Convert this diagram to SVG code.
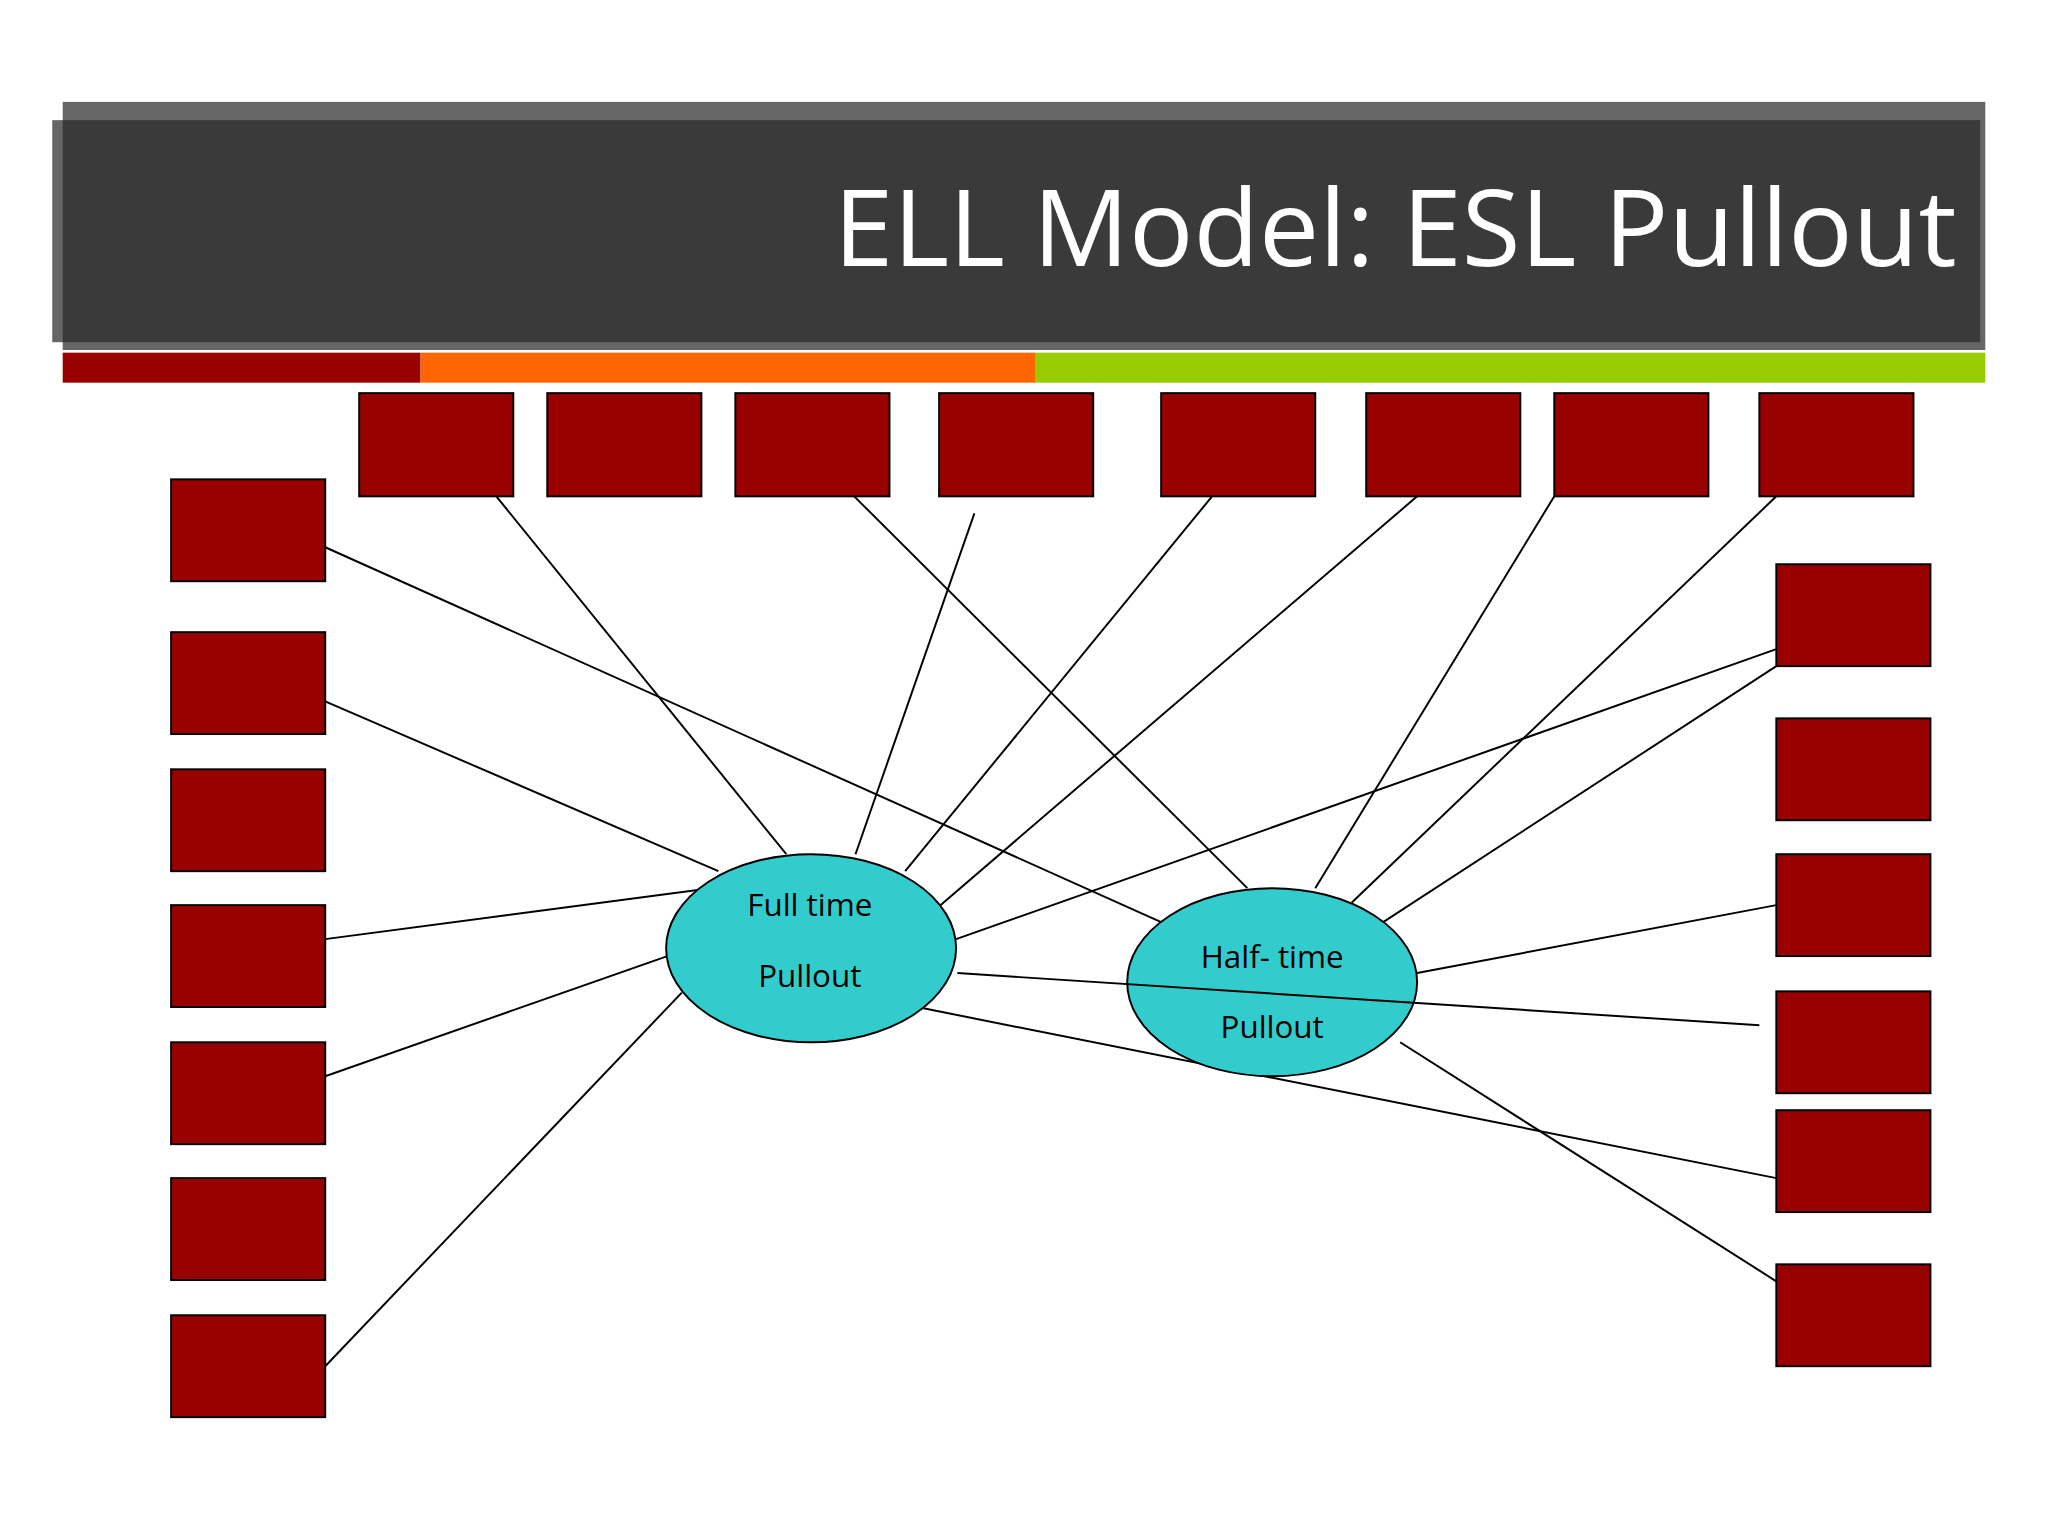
<svg xmlns="http://www.w3.org/2000/svg" width="2048" height="1536" viewBox="0 0 2048 1536">
<style>
.b{fill:#990000;stroke:#000;stroke-width:1.5}
.e{fill:#33cccc;stroke:#000;stroke-width:1.5}
.t{font-family:"Open Sans","Liberation Sans",sans-serif;font-size:24px;fill:#000;text-anchor:middle}
#connectors line{stroke:#000;stroke-width:1.5}
</style>
<rect width="2048" height="1536" fill="#fff"/>
<g transform="scale(1.30612)">
<g id="title">
<rect x="48" y="78" width="1472" height="190" fill="#666"/>
<rect x="40" y="92" width="1476" height="170" fill="#666"/>
<rect x="48" y="92" width="1468" height="170" fill="#3a3a3a"/>
<rect x="48" y="270" width="274" height="23" fill="#990000"/>
<rect x="322" y="270" width="471" height="23" fill="#ff6600"/>
<rect x="793" y="270" width="727" height="23" fill="#99cc00"/>
<text x="1498" y="204" font-family="Open Sans,Liberation Sans,sans-serif" font-size="82" fill="#fff" text-anchor="end">ELL Model: ESL Pullout</text>
</g>
<g id="connectors">
<line x1="380" y1="380" x2="602" y2="654"/>
<line x1="746" y1="393" x2="655" y2="654"/>
<line x1="654" y1="380" x2="955" y2="680"/>
<line x1="928" y1="380" x2="693" y2="667"/>
<line x1="1085" y1="380" x2="720" y2="693"/>
<line x1="1190" y1="380" x2="1007" y2="680"/>
<line x1="1360" y1="380" x2="1035" y2="691"/>
<line x1="249" y1="419" x2="889" y2="706"/>
<line x1="249" y1="537" x2="550" y2="667"/>
<line x1="249" y1="719" x2="537" y2="681"/>
<line x1="249" y1="824" x2="511" y2="732"/>
<line x1="249" y1="1046" x2="522" y2="760"/>
<line x1="1360" y1="497" x2="732" y2="719"/>
<line x1="1360" y1="510" x2="1059" y2="706"/>
<line x1="1360" y1="693" x2="1085" y2="745"/>
<line x1="707" y1="772" x2="1360" y2="902"/>
<line x1="1072" y1="798" x2="1360" y2="981"/>
</g>
<g id="top-boxes">
<rect class="b" x="275" y="301" width="118" height="79"/>
<rect class="b" x="419" y="301" width="118" height="79"/>
<rect class="b" x="563" y="301" width="118" height="79"/>
<rect class="b" x="719" y="301" width="118" height="79"/>
<rect class="b" x="889" y="301" width="118" height="79"/>
<rect class="b" x="1046" y="301" width="118" height="79"/>
<rect class="b" x="1190" y="301" width="118" height="79"/>
<rect class="b" x="1347" y="301" width="118" height="79"/>
</g>
<g id="left-boxes">
<rect class="b" x="131" y="367" width="118" height="78"/>
<rect class="b" x="131" y="484" width="118" height="78"/>
<rect class="b" x="131" y="589" width="118" height="78"/>
<rect class="b" x="131" y="693" width="118" height="78"/>
<rect class="b" x="131" y="798" width="118" height="78"/>
<rect class="b" x="131" y="902" width="118" height="78"/>
<rect class="b" x="131" y="1007" width="118" height="78"/>
</g>
<g id="right-boxes">
<rect class="b" x="1360" y="432" width="118" height="78"/>
<rect class="b" x="1360" y="550" width="118" height="78"/>
<rect class="b" x="1360" y="654" width="118" height="78"/>
<rect class="b" x="1360" y="759" width="118" height="78"/>
<rect class="b" x="1360" y="850" width="118" height="78"/>
<rect class="b" x="1360" y="968" width="118" height="78"/>
</g>
<g id="full-time">
<ellipse class="e" cx="621" cy="726" rx="111" ry="72"/>
<text class="t" x="620" y="701">Full time</text>
<text class="t" x="620" y="756">Pullout</text>
</g>
<g id="half-time">
<ellipse class="e" cx="974" cy="752" rx="111" ry="72"/>
<text class="t" x="974" y="741">Half- time</text>
<text class="t" x="974" y="795">Pullout</text>
</g>
<line x1="733" y1="745" x2="1347" y2="785" stroke="#000" stroke-width="1.5"/>
</g>
</svg>
